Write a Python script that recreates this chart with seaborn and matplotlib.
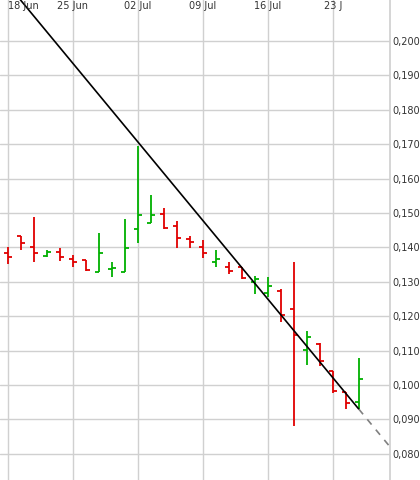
import matplotlib
matplotlib.use("Agg")
import matplotlib.pyplot as plt
import seaborn as sns
import numpy as np

# Daily OHLC (trading days from 18 Jun)
opens = [.1383, .1432, .1401, .1376, .1387, .1366, .1363, .1329, .1336, .1329,
         .1453, .1470, .1496, .1461, .1424, .1402, .1357, .1342, .1344, .1299,
         .1267, .1272, .1221, .1101, .1119, .1040, .0979, .0950]
highs = [.1400, .1432, .1487, .1392, .1398, .1378, .1364, .1442, .1357, .1483,
         .1695, .1552, .1516, .1477, .1432, .1421, .1392, .1357, .1344, .1318,
         .1313, .1279, .1358, .1158, .1121, .1040, .0980, .1078]
lows = [.1352, .1392, .1357, .1371, .1361, .1342, .1332, .1329, .1313, .1329,
        .1413, .1470, .1453, .1398, .1398, .1368, .1344, .1323, .1308, .1264,
        .1255, .1184, .0880, .1059, .1054, .0976, .0930, .0930]
closes = [.1372, .1413, .1384, .1386, .1371, .1357, .1335, .1383, .1339, .1398,
          .1494, .1494, .1456, .1427, .1415, .1384, .1366, .1331, .1311, .1308,
          .1287, .1204, .1146, .1139, .1071, .0982, .0947, .1017]
tick_pos = [0, 5, 10, 15, 20, 25]
tick_labels = ["18 Jun", "25 Jun", "02 Jul", "09 Jul", "16 Jul", "23 J"]
y_ticks = [0.08, 0.09, 0.10, 0.11, 0.12, 0.13, 0.14, 0.15, 0.16, 0.17, 0.18, 0.19, 0.20]
# trend line anchors (day, price)
trend_x = [0.9, 27.0]
trend_y = [0.2122, 0.0930]
trend_ext_x = [27.0, 29.5]

sns.set_theme(style="white")
plt.rcParams['font.family'] = ['DejaVu Sans']

fig = plt.figure(figsize=(4.2, 4.81), dpi=100)
ax = fig.add_axes([0, 0, 390 / 420, 1])

x = np.arange(len(opens))
o, h, l, c = map(np.array, (opens, highs, lows, closes))
colors = np.where(c >= o, "#00b000", "#e00000")
ax.vlines(x, l, h, colors=colors, linewidth=1.3)
ax.hlines(o, x - 0.3, x, colors=colors, linewidth=1.3)
ax.hlines(c, x, x + 0.3, colors=colors, linewidth=1.3)

slope = (trend_y[1] - trend_y[0]) / (trend_x[1] - trend_x[0])
ax.plot(trend_x, trend_y, color="black", linewidth=1.2)
ax.plot(trend_ext_x, [trend_y[1], trend_y[1] + slope * (trend_ext_x[1] - trend_x[1])],
        color="gray", linewidth=1.2, linestyle=(0, (4, 4)))

ax.set_xlim(-0.615, 29.4)
ax.set_ylim(0.0724, 0.2122)
ax.set_xticks(tick_pos)
ax.set_yticks(y_ticks)
ax.grid(True, color="#d0d0d0", linewidth=1)
ax.tick_params(length=0, labelbottom=False, labelleft=False)
ax.set_xticklabels([])
ax.set_yticklabels([])
for s in ax.spines.values():
    s.set_visible(False)
ax.spines["right"].set_visible(True)
ax.spines["right"].set_color("#d0d0d0")

for p, lab in zip(tick_pos, tick_labels):
    ax.text(max(p, 1.2), 0.2118, lab, ha="center", va="top", fontsize=7, color="#333333")
for v in y_ticks:
    ax.text(29.55, v, f"{v:.3f}".replace(".", ","), ha="left", va="center",
            fontsize=7, color="#333333", clip_on=False)

fig.savefig("out.png", dpi=100)
